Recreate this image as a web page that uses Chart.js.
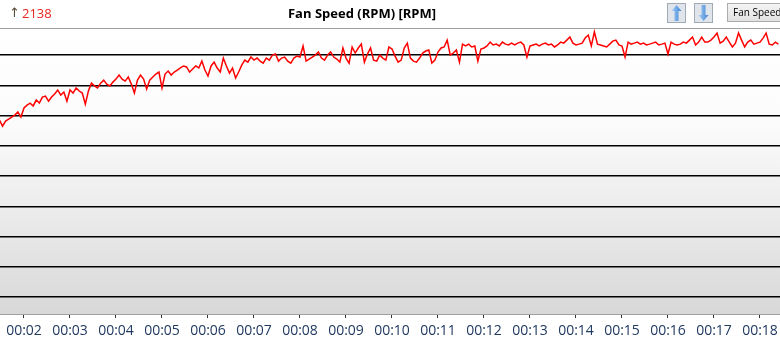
<!DOCTYPE html>
<html>
<head>
<meta charset="utf-8">
<script src="https://cdn.jsdelivr.net/npm/chart.js@4.4.1/dist/chart.umd.min.js"></script>
<style>
  html, body { margin: 0; padding: 0; background: #fff; }
</style>
</head>
<body>
<canvas id="fanChart" width="780" height="353"></canvas>
<script>
// one sample every 4 s, first one at 01:28
const startSec = 88;
const stepSec = 4;

const fanRpm = [
    1613, 1577, 1607, 1619, 1631, 1643, 1661, 1631, 1685, 1702, 1714, 1697, 1732, 1714, 1750,
    1756, 1726, 1750, 1768, 1792, 1762, 1780, 1726, 1792, 1774, 1804, 1786, 1774, 1708, 1786,
    1833, 1816, 1804, 1833, 1851, 1827, 1816, 1839, 1857, 1881, 1857, 1845, 1869, 1827, 1774,
    1851, 1881, 1857, 1798, 1851, 1869, 1887, 1899, 1804, 1887, 1905, 1881, 1899, 1911, 1923,
    1935, 1929, 1899, 1917, 1935, 1923, 1964, 1911, 1875, 1935, 1958, 1923, 1899, 1982, 1935,
    1893, 1923, 1863, 1899, 1940, 1970, 1958, 1988, 1970, 1982, 1964, 1952, 1982, 1970, 2000,
    2006, 1964, 1982, 1988, 1964, 1952, 1982, 1994, 1988, 2054, 1964, 1976, 1988, 2000, 2018,
    1982, 1970, 2000, 2018, 1988, 1976, 1958, 2042, 1982, 1952, 2048, 2012, 2042, 2065, 1958,
    2006, 2042, 1970, 1964, 2000, 1982, 1970, 2048, 2036, 1994, 1958, 1970, 2042, 2071, 1982,
    1964, 1958, 1982, 2012, 2024, 2030, 1952, 1970, 2018, 2042, 2048, 2089, 2000, 2012, 2030,
    1958, 2065, 2054, 2065, 2048, 2054, 1964, 2036, 2042, 2054, 2077, 2060, 2065, 2054, 2077,
    2065, 2060, 2071, 2060, 2071, 2077, 2060, 1988, 2054, 2060, 2065, 2054, 2065, 2071, 2060,
    2065, 2048, 2060, 2077, 2071, 2089, 2107, 2071, 2060, 2065, 2071, 2101, 2119, 2054, 2138,
    2065, 2060, 2054, 2048, 2065, 2083, 2089, 2060, 2054, 1988, 2077, 2065, 2071, 2077, 2065,
    2071, 2060, 2065, 2071, 2077, 2060, 2065, 2071, 2006, 2077, 2065, 2060, 2065, 2077, 2071,
    2089, 2107, 2060, 2077, 2107, 2077, 2077, 2089, 2107, 2131, 2071, 2083, 2107, 2077, 2048,
    2071, 2131, 2089, 2048, 2077, 2089, 2065, 2071, 2077, 2101, 2131, 2065, 2060, 2077, 2065
];

const gridRpm = [560, 740, 920, 1100, 1280, 1460, 1640, 1820, 2000];
const minuteTicks = [2, 3, 4, 5, 6, 7, 8, 9, 10, 11, 12, 13, 14, 15, 16, 17, 18];
const maxRpm = 2138;
const titleText = 'Fan Speed (RPM) [RPM]';
const buttonText = 'Fan Speed';

const points = fanRpm.map((v, i) => ({ x: startSec + i * stepSec, y: v }));

function drawArrowButton(ctx, x, up) {
    ctx.fillStyle = '#dfe5eb';
    ctx.fillRect(x, 3, 19, 20);
    ctx.strokeStyle = '#a2aab3';
    ctx.lineWidth = 1;
    ctx.strokeRect(x + 0.5, 3.5, 18, 19);
    const cx = x + 9.5;
    const g = ctx.createLinearGradient(cx - 5, 0, cx + 5, 0);
    g.addColorStop(0, '#a8d0f4');
    g.addColorStop(1, '#3d82d4');
    ctx.fillStyle = g;
    ctx.beginPath();
    if (up) {
        ctx.moveTo(cx, 5);
        ctx.lineTo(cx + 5, 11);
        ctx.lineTo(cx + 2, 11);
        ctx.lineTo(cx + 2, 21);
        ctx.lineTo(cx - 2, 21);
        ctx.lineTo(cx - 2, 11);
        ctx.lineTo(cx - 5, 11);
    } else {
        ctx.moveTo(cx, 21);
        ctx.lineTo(cx + 5, 15);
        ctx.lineTo(cx + 2, 15);
        ctx.lineTo(cx + 2, 5);
        ctx.lineTo(cx - 2, 5);
        ctx.lineTo(cx - 2, 15);
        ctx.lineTo(cx - 5, 15);
    }
    ctx.closePath();
    ctx.fill();
}

const framePlugin = {
    id: 'frame',
    beforeDraw(chart) {
        const { ctx, chartArea: a, width, height } = chart;
        ctx.save();
        ctx.fillStyle = '#fff';
        ctx.fillRect(0, 0, width, height);
        const g = ctx.createLinearGradient(0, a.top, 0, a.bottom);
        g.addColorStop(0, '#ffffff');
        g.addColorStop(0.34, '#fbfbfb');
        g.addColorStop(1, '#d8d8d8');
        ctx.fillStyle = g;
        ctx.fillRect(a.left, a.top, a.right - a.left, a.bottom - a.top);
        ctx.fillStyle = '#a0a0a0';
        ctx.fillRect(0, a.top, width, 1);
        ctx.restore();
    },
    afterDraw(chart) {
        const ctx = chart.ctx;
        ctx.save();
        ctx.textBaseline = 'middle';
        ctx.font = '13px "DejaVu Sans"';
        ctx.fillStyle = '#5a4a3a';
        ctx.fillText('↑', 9, 14);
        ctx.font = '13px "Open Sans"';
        ctx.fillStyle = '#e8251f';
        ctx.fillText(String(maxRpm), 22, 14);

        ctx.font = 'bold 13px "Open Sans"';
        ctx.fillStyle = '#000';
        ctx.textAlign = 'center';
        ctx.fillText(titleText, 362, 14);

        drawArrowButton(ctx, 667, true);
        drawArrowButton(ctx, 694, false);

        const bg = ctx.createLinearGradient(0, 3, 0, 22);
        bg.addColorStop(0, '#f5f5f5');
        bg.addColorStop(1, '#e0e0e0');
        ctx.fillStyle = bg;
        ctx.fillRect(727, 3, 60, 19);
        ctx.strokeStyle = '#acacac';
        ctx.strokeRect(727.5, 3.5, 60, 18);
        ctx.textAlign = 'left';
        ctx.fillStyle = '#000';
        ctx.font = '10px "Open Sans"';
        ctx.fillText(buttonText, 733, 13);
        ctx.restore();
    }
};

new Chart(document.getElementById('fanChart').getContext('2d'), {
    type: 'line',
    data: {
        datasets: [{
            data: points,
            borderColor: '#ff0000',
            borderWidth: 1.5,
            pointRadius: 0,
            tension: 0,
            fill: false
        }]
    },
    options: {
        responsive: false,
        animation: false,
        layout: { padding: { top: 28, left: 0, right: 0, bottom: 0 } },
        plugins: {
            legend: { display: false },
            tooltip: { enabled: false }
        },
        scales: {
            x: {
                type: 'linear',
                min: 88.7,
                max: 1106.1,
                afterBuildTicks: s => { s.ticks = minuteTicks.map(m => ({ value: m * 60 })); },
                afterFit: s => { s.height = 39; s.paddingLeft = 0; s.paddingRight = 0; },
                grid: { drawOnChartArea: false, drawTicks: true, tickLength: 4, tickColor: '#333', tickWidth: 1 },
                border: { display: true, color: '#a0a0a0', width: 1 },
                ticks: {
                    color: '#203a60',
                    font: { family: '"Open Sans"', size: 14 },
                    padding: 5,
                    maxRotation: 0,
                    autoSkip: false,
                    callback: v => '00:' + String(Math.round(v / 60)).padStart(2, '0')
                }
            },
            y: {
                min: 459,
                max: 2161,
                afterBuildTicks: s => { s.ticks = gridRpm.map(v => ({ value: v })); },
                afterFit: s => { s.width = 0; },
                ticks: { display: false },
                border: { display: false },
                grid: { color: '#000', lineWidth: 1.5, drawTicks: false }
            }
        }
    },
    plugins: [framePlugin]
});
</script>
</body>
</html>
